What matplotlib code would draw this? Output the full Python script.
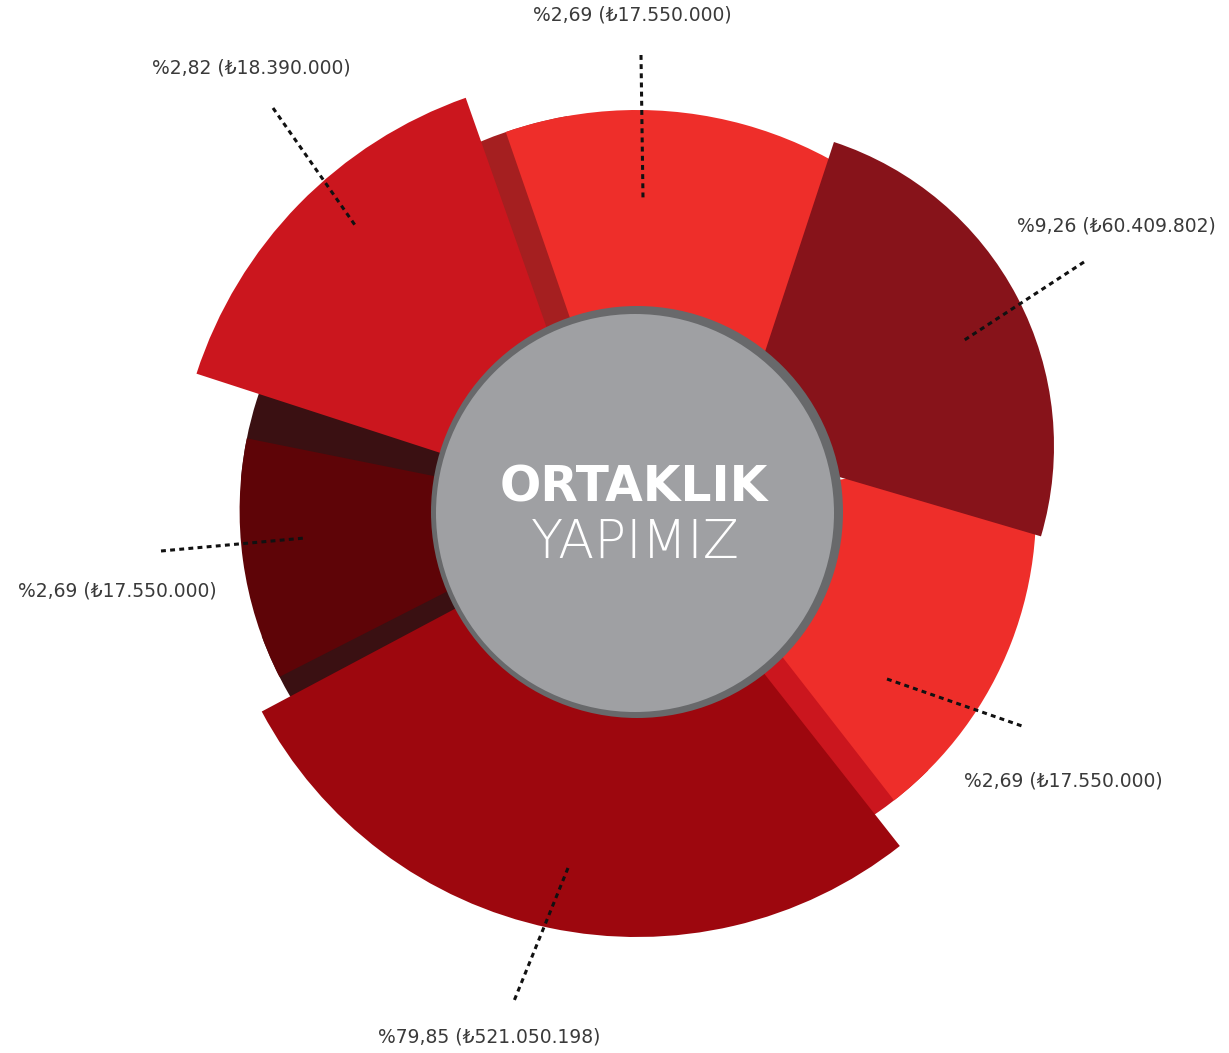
import matplotlib
matplotlib.use("Agg")
import matplotlib.pyplot as plt
from matplotlib.patches import Wedge, Circle

# ---- data (values as printed on the chart) ----
shares = ["%2,69", "%2,82", "%9,26", "%2,69", "%2,69", "%79,85"]
amounts = ["₺17.550.000", "₺18.390.000", "₺60.409.802", "₺17.550.000", "₺17.550.000", "₺521.050.198"]
title_top = "ORTAKLIK"
title_bottom = "YAPIMIZ"

# ---- decorative layout (image pixel space, angles ccw in degrees) ----
# segment: apex x, apex y, radius, start, end, colour
segments = [
    (637, 512, 402, 100.0, 125.0, "#A51F20"),   # shadow of top slice
    (637, 512, 402, 40.0, 109.05, "#EE2E2A"),    # top slice
    (605.6, 510.7, 366, 150.0, 175.0, "#3A1012"),  # shadow above left slice
    (605.6, 510.7, 366, 200.0, 220.0, "#3A1012"),  # shadow below left slice
    (668, 510, 368, -65.0, -45.0, "#CB161E"),    # shadow of lower-right slice
    (637, 512, 425, 208.0, 308.2, "#9D070E"),    # bottom big slice
    (668, 510, 368, -52.1, 10.0, "#EE2E2A"),     # lower-right slice
    (605.6, 510.7, 366, 168.6, 207.0, "#5E0407"),  # left slice
    (610.2, 508.1, 435, 109.4, 162.0, "#CB161E"),  # top-left slice
    (734, 446, 320, -16.4, 71.8, "#87131A"),     # right slice
]

label_pos = [(632, 15), (251, 68), (1116, 226), (117, 591), (1063, 781), (489, 1037)]
leaders = [((641, 643), (55, 198)), ((273, 357), (108, 228)), ((1084, 963), (262, 341)),
           ((161, 305), (551, 538)), ((887, 1022), (679, 726)), ((568, 514), (868, 1001))]

W, H = 1229, 1053
fig = plt.figure(figsize=(W / 100, H / 100), dpi=100)
ax = fig.add_axes([0, 0, 1, 1])
ax.set_xlim(0, W)
ax.set_ylim(H, 0)
ax.axis("off")

for cx, cy, r, a1, a2, col in segments:
    # y axis is inverted, so angles are negated
    ax.add_patch(Wedge((cx, cy), r, -a2, -a1, facecolor=col, edgecolor="none", lw=0))

ax.add_patch(Circle((637, 512), 206, facecolor="#68696B", edgecolor="none"))
ax.add_patch(Circle((635, 513), 199, facecolor="#9FA0A3", edgecolor="none"))

for (xs, ys) in leaders:
    ax.plot(xs, ys, color="#111111", lw=2.2, linestyle=(0, (1.6, 1.4)),
            solid_capstyle="butt", dash_capstyle="butt")

fam = ["DejaVu Sans", "Noto Sans"]
for (x, y), s, a in zip(label_pos, shares, amounts):
    ax.text(x, y, f"{s} ({a})", ha="center", va="center", fontsize=13.5,
            color="#3a3a3a", family=fam)

ax.text(634, 487, title_top, ha="center", va="center", fontsize=35, fontweight="bold",
        color="white", family=fam)
ax.text(635, 543, title_bottom, ha="center", va="center", fontsize=38, fontweight="light",
        color="white", family=fam)

fig.savefig("out.png", dpi=100, facecolor="white")
